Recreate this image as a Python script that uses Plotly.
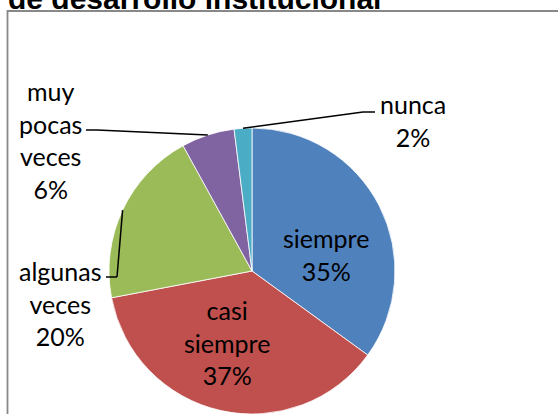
import math
import plotly.graph_objects as go

# ---- data ----
categories = ["siempre", "casi siempre", "algunas veces", "muy pocas veces", "nunca"]
values = [35, 37, 20, 6, 2]
colors = ["#4F81BD", "#C0504D", "#9BBB59", "#8064A2", "#4BACC6"]
title_text = "de desarrollo institucional"

W, H = 558, 414
CX, R = 252.0, 143.0          # pie centre x and radius (pixels)
CY = H - R                    # pie centre y (pixels from top)


def px(x):
    return x / W


def py(y):
    return 1 - y / H


fig = go.Figure()
fig.add_trace(go.Pie(
    labels=categories,
    values=values,
    sort=False,
    direction="clockwise",
    rotation=0,
    marker=dict(colors=colors, line=dict(color="white", width=0.8)),
    textinfo="none",
    hoverinfo="skip",
    domain=dict(x=[px(CX - R), px(CX + R)], y=[0, 2 * R / H]),
    showlegend=False,
))

total = sum(values)
pct = [round(v / total * 100) for v in values]
label_text = [c.replace(" ", "<br>") + "<br>" + f"{p}%" for c, p in zip(categories, pct)]

# slice mid-angle points on the pie edge (computed from data)
mid_pts = []
cum = 0
for v in values:
    ang = math.radians((cum + v / 2) / total * 360)
    mid_pts.append((CX + R * math.sin(ang), CY - R * math.cos(ang)))
    cum += v

# label placement (layout): centre x, centre y in pixels
label_pos = [
    (326, 255),   # siempre
    (227, 342),   # casi siempre
    (60, 303),    # algunas veces
    (50, 140),    # muy pocas veces
    (413, 121),   # nunca
]
# leader line elbows / ends for outside labels (layout)
leaders = {
    2: [(117, 277), (106, 277)],
    3: [(97, 130), (86, 130)],
    4: [(363, 112), (375, 112)],
}

label_font = dict(family="Lato, Carlito, sans-serif", size=25, color="black")
for i, (x, y) in enumerate(label_pos):
    fig.add_annotation(x=px(x), y=py(y), xref="paper", yref="paper",
                       text=label_text[i], showarrow=False,
                       xanchor="center", yanchor="middle",
                       font=label_font, align="center")

shapes = []
for i, pts in leaders.items():
    seq = [mid_pts[i]] + pts
    for (x0, y0), (x1, y1) in zip(seq[:-1], seq[1:]):
        shapes.append(dict(type="line", xref="paper", yref="paper",
                           x0=px(x0), y0=py(y0), x1=px(x1), y1=py(y1),
                           line=dict(color="black", width=1.5)))

# chart-area border (extends beyond the visible window)
shapes.append(dict(type="rect", xref="paper", yref="paper", layer="below",
                   x0=px(7.5), y0=-0.1, x1=1.1, y1=py(11),
                   line=dict(color="#888888", width=1.8), fillcolor="rgba(0,0,0,0)"))

fig.add_annotation(x=px(6), y=py(17), xref="paper", yref="paper",
                   text="<b>" + title_text + "</b>", showarrow=False,
                   xanchor="left", yanchor="bottom",
                   font=dict(family="Liberation Sans, Arial, sans-serif", size=30, color="black"))

fig.update_layout(
    width=W, height=H,
    margin=dict(l=0, r=0, t=0, b=0),
    paper_bgcolor="white",
    plot_bgcolor="white",
    showlegend=False,
    shapes=shapes,
)

fig.write_html("out.html",
               config={"displayModeBar": False},
               post_script="document.body.style.margin='0px';document.body.style.overflow='hidden';")
